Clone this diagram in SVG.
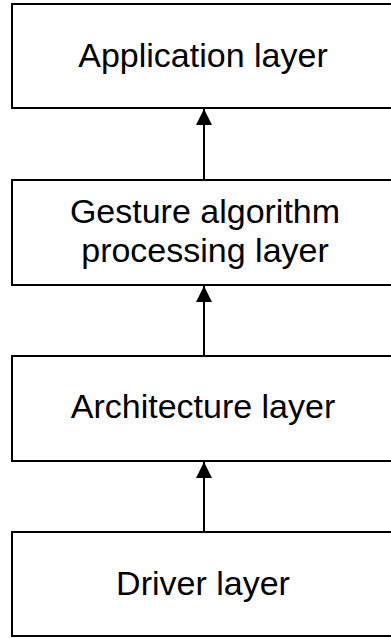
<svg xmlns="http://www.w3.org/2000/svg" width="391" height="638" viewBox="0 0 391 638">
  <style>
    .box { fill: #ffffff; stroke: #000000; stroke-width: 2; }
    .label { font-family: "Liberation Sans", Arial, sans-serif; font-size: 34px; fill: #000000; text-anchor: middle; }
    .link { stroke: #000000; stroke-width: 2; fill: none; marker-end: url(#arrow); }
  </style>
  <defs>
    <marker id="arrow" markerWidth="16" markerHeight="16" refX="16" refY="8" orient="auto" markerUnits="userSpaceOnUse">
      <path d="M0,0 L16,8 L0,16 Z" fill="#000000"/>
    </marker>
  </defs>
  <rect width="391" height="638" fill="#ffffff"/>

  <g id="application-layer">
    <rect class="box" x="12" y="4" width="400" height="104"/>
    <text class="label" x="203" y="67">Application layer</text>
  </g>

  <g id="gesture-layer">
    <rect class="box" x="12" y="180" width="400" height="105"/>
    <text class="label" x="205" y="223">Gesture algorithm</text>
    <text class="label" x="205" y="262">processing layer</text>
  </g>

  <g id="architecture-layer">
    <rect class="box" x="12" y="356" width="400" height="105"/>
    <text class="label" x="203" y="418">Architecture layer</text>
  </g>

  <g id="driver-layer">
    <rect class="box" x="12" y="532" width="400" height="104"/>
    <text class="label" x="203" y="595">Driver layer</text>
  </g>

  <g id="connectors">
    <line class="link" x1="204" y1="180" x2="204" y2="109"/>
    <line class="link" x1="204" y1="356" x2="204" y2="286"/>
    <line class="link" x1="204" y1="532" x2="204" y2="462"/>
  </g>
</svg>
